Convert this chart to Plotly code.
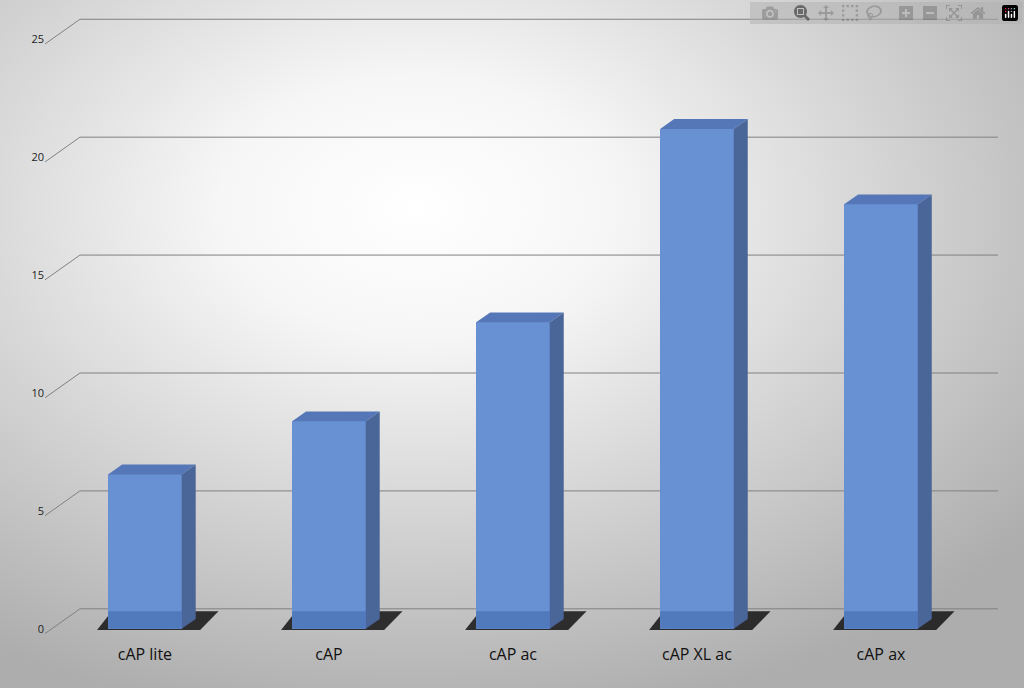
import plotly.graph_objects as go

categories = ["cAP lite", "cAP", "cAP ac", "cAP XL ac", "cAP ax"]
values = [6.55, 8.8, 13.0, 21.2, 18.0]
tick_vals = [0, 5, 10, 15, 20, 25]

W = 0.4      # bar width (category units)
DX = 0.076   # depth offset x (category units)
DY = 0.42    # depth offset y (value units)
GY = 0.85    # back wall offset for gridlines

svg = ("data:image/svg+xml;utf8,<svg xmlns='http://www.w3.org/2000/svg' width='1024' height='688'>"
       "<defs><radialGradient id='g' cx='40%25' cy='30%25' r='75%25'>"
       "<stop offset='0' stop-color='%23ffffff'/><stop offset='0.25' stop-color='%23f6f6f6'/>"
       "<stop offset='1' stop-color='%23adadad'/></radialGradient></defs>"
       "<rect width='1024' height='688' fill='url(%23g)'/></svg>")

fig = go.Figure()
fig.add_trace(go.Bar(x=list(range(len(categories))), y=values, width=W,
                     marker=dict(color="#6891d3", line=dict(width=0)), opacity=1))

shapes = []
xl, xr = -0.543, 4.636
xb = xl + 0.19
for t in tick_vals:
    shapes.append(dict(type="line", xref="x", yref="y", x0=xb, x1=xr, y0=t + GY, y1=t + GY,
                       line=dict(color="#808080", width=1), layer="below"))
    shapes.append(dict(type="line", xref="x", yref="y", x0=xl, x1=xb, y0=t - 0.2, y1=t + GY,
                       line=dict(color="#808080", width=1), layer="below"))
for i, v in enumerate(values):
    x0, x1 = i - W / 2, i + W / 2
    shapes.append(dict(type="path", xref="x", yref="y", layer="below",
                       path=f"M{x0-0.06},-0.05 L{x1+0.1},-0.05 L{x1+0.2},0.75 L{x0+0.02},0.75 Z",
                       fillcolor="rgba(20,20,20,0.85)", line=dict(width=0)))
    shapes.append(dict(type="path", xref="x", yref="y", layer="above",
                       path=f"M{x0},{v} L{x1},{v} L{x1+DX},{v+DY} L{x0+DX},{v+DY} Z",
                       fillcolor="#5577b8", line=dict(width=0)))
    shapes.append(dict(type="path", xref="x", yref="y", layer="above",
                       path=f"M{x1},0 L{x1+DX},{DY} L{x1+DX},{v+DY} L{x1},{v} Z",
                       fillcolor="#4a6598", line=dict(width=0)))
    shapes.append(dict(type="rect", xref="x", yref="y", layer="above",
                       x0=x0, x1=x1, y0=0, y1=0.75, fillcolor="rgba(40,80,150,0.35)", line=dict(width=0)))

fig.update_layout(
    width=1024, height=688, margin=dict(l=45, r=26, t=11, b=45),
    paper_bgcolor="#b0b0b0", plot_bgcolor="rgba(0,0,0,0)",
    images=[dict(source=svg, xref="paper", yref="paper", x=-0.05, y=1.02, sizex=1.1, sizey=1.1,
                 sizing="stretch", layer="below", xanchor="left", yanchor="top")],
    shapes=shapes, showlegend=False, bargap=0,
    xaxis=dict(range=[xl, xr], tickvals=list(range(len(categories))), ticktext=categories,
               showgrid=False, zeroline=False, showline=False, ticks="",
               tickfont=dict(family="Open Sans", size=16, color="#111")),
    yaxis=dict(range=[-0.6, 26.2], tickvals=tick_vals, showgrid=False, zeroline=False,
               ticks="", tickfont=dict(family="Open Sans", size=11, color="#222")),
)
fig.write_html("out.html", post_script="document.body.style.margin='0';document.body.style.overflow='hidden';")
